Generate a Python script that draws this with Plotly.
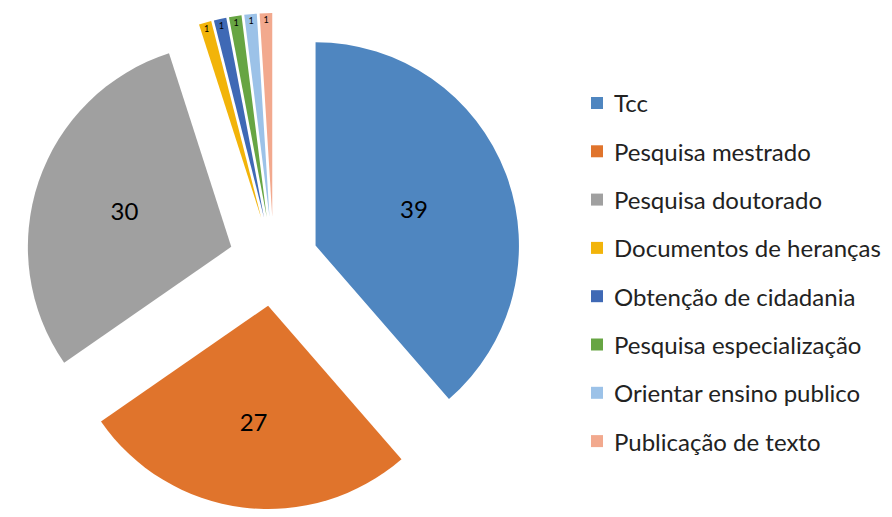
import plotly.graph_objects as go

categories = ["Tcc", "Pesquisa mestrado", "Pesquisa doutorado", "Documentos de heranças",
              "Obtenção de cidadania", "Pesquisa especialização", "Orientar ensino publico",
              "Publicação de texto"]
values = [39, 27, 30, 1, 1, 1, 1, 1]
colors = ["#4F86C0", "#E0742C", "#A0A0A0", "#F2B40A", "#3F69B5", "#67A543", "#9CC2E8", "#F2A98E"]

FONT = "Lato"
W, H = 884, 509  # page has an 8px body margin in the 892x517 window

fig = go.Figure()
fig.add_trace(go.Pie(
    labels=categories, values=values, sort=False, direction="clockwise", rotation=0,
    marker=dict(colors=colors, line=dict(color="white", width=0)),
    pull=[0.22] * len(values),
    textinfo="value", textposition="inside", insidetextorientation="horizontal",
    textfont=dict(family=FONT, size=24, color="black"),
    domain=dict(x=[0.012, 0.589], y=[0.015, 0.99]),
    showlegend=False,
))

# legend drawn as squares + text
top, step = 0.8134, 0.0949
sq = 6 / H
for i, (c, col) in enumerate(zip(categories, colors)):
    yc = top - i * step
    fig.add_shape(type="rect", xref="paper", yref="paper",
                  x0=583 / W, x1=595 / W, y0=yc - sq, y1=yc + sq,
                  fillcolor=col, line=dict(width=0))
    fig.add_annotation(x=604 / W, y=yc, xref="paper", yref="paper", text=c,
                       showarrow=False, xanchor="left", yanchor="middle",
                       font=dict(family=FONT, size=24, color="#222"))

fig.update_layout(width=W, height=H, margin=dict(l=0, r=0, t=0, b=0),
                  paper_bgcolor="white", plot_bgcolor="white")
fig.write_html("out.html")
